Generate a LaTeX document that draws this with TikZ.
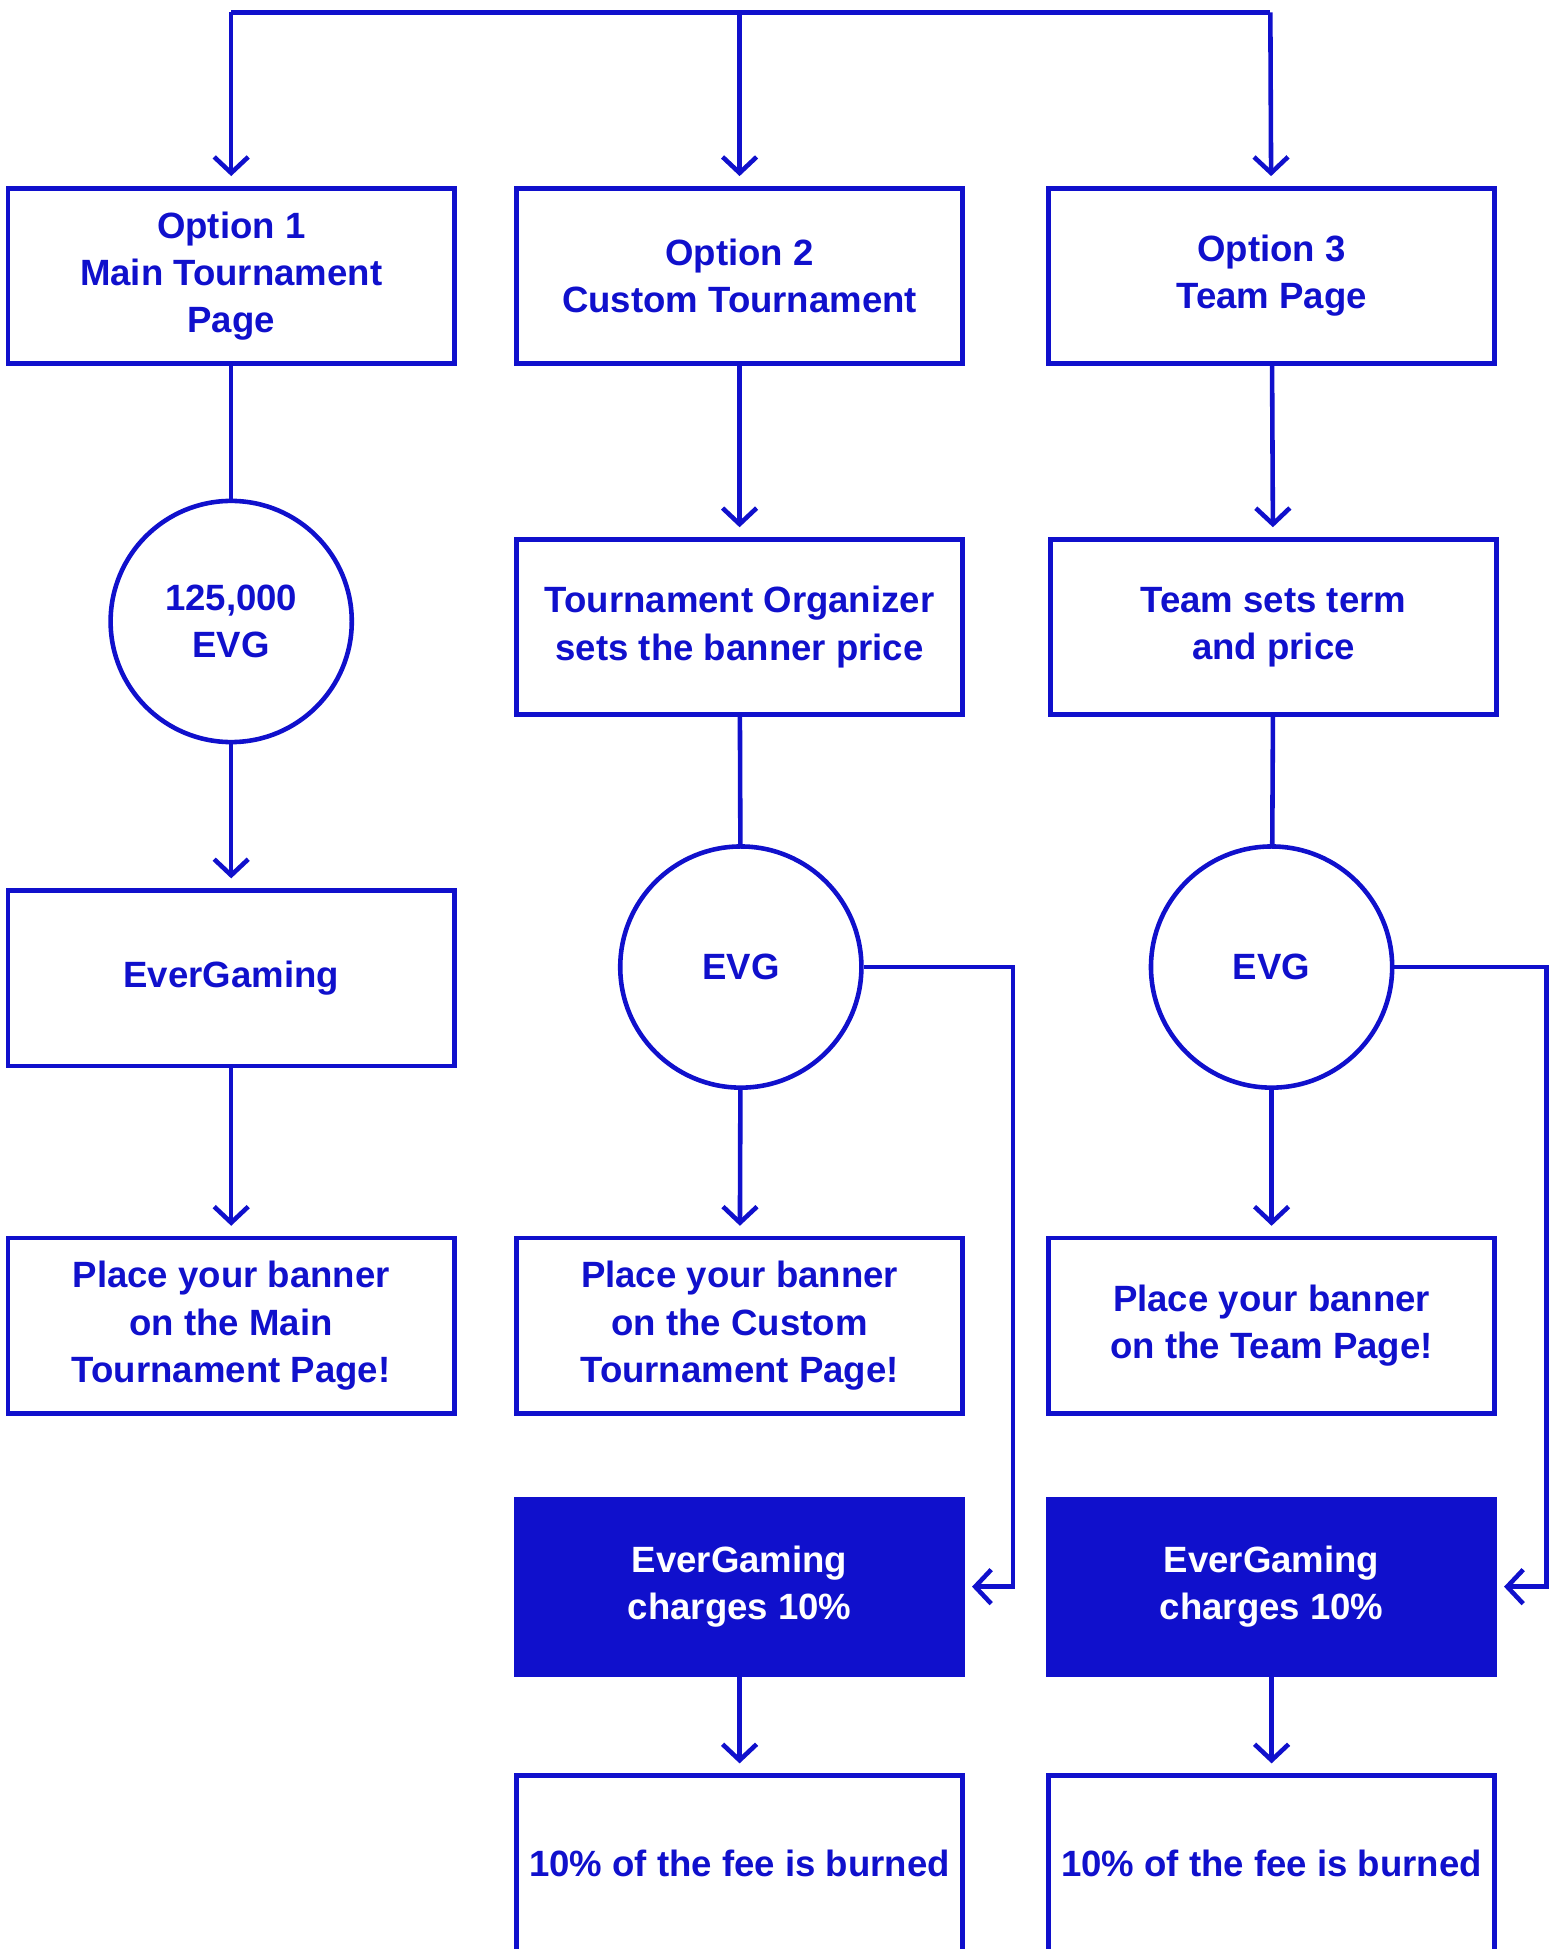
\documentclass[tikz,border=0pt]{standalone}
\usepackage{fontspec}
\setmainfont{Liberation Sans}
\usetikzlibrary{arrows.meta}
\definecolor{evblue}{RGB}{16,16,204}

\begin{document}
\begin{tikzpicture}[x=0.012428cm,y=-0.012428cm,
    line width=1.3pt, draw=evblue,
    every node/.style={font=\fontsize{10.4}{13.4}\selectfont\bfseries, text=evblue, align=center},
    box/.style={draw, rectangle, minimum width=4.46cm, minimum height=1.75cm, inner sep=0pt},
    fillbox/.style={box, fill=evblue, text=white},
    ring/.style={draw, circle, minimum size=2.41cm, inner sep=0pt},
    arr/.style={-{Straight Barb[length=1.6mm,width=3.4mm]}, shorten >=0.1cm},
    sidearr/.style={-{Straight Barb[length=1.6mm,width=3.4mm]}, shorten >=0.07cm}]
        \useasboundingbox (0,0) rectangle (1248,1568);

        \coordinate (t1) at (186,10);
        \coordinate (t2) at (595,10);
        \coordinate (t3) at (1022,10);
        \draw (t1) -- (t3);

        \node[box] (opt1) at (186,222) {Option 1\\Main Tournament\\Page};
        \node[box] (opt2) at (595,222) {Option 2\\Custom Tournament};
        \node[box] (opt3) at (1023,222) {Option 3\\Team Page};
        \draw[arr] (t1) -- (opt1);
        \draw[arr] (t2) -- (opt2);
        \draw[arr] (t3) -- (opt3);
        %%%%%%%%%%

        \node[ring] (evg1) at (186,500) {125,000\\EVG};
        \node[box] (ever1) at (186,787) {EverGaming};
        \node[box] (place1) at (186,1066.5) {Place your banner\\on the Main\\Tournament Page!};
        \draw (opt1) -- (evg1);
        \draw[arr] (evg1) -- (ever1);
        \draw[arr] (ever1) -- (place1);
        %%%%%%%%%%

        \node[box] (org2) at (595,504.5) {Tournament Organizer\\sets the banner price};
        \node[ring] (evg2) at (596,778) {EVG};
        \node[box] (place2) at (595,1066.5) {Place your banner\\on the Custom\\Tournament Page!};
        \node[fillbox] (fee2) at (595,1276.5) {EverGaming\\charges 10\%};
        \node[box] (burn2) at (595,1499) {10\% of the fee is burned};
        \coordinate (s2) at (815,778);
        \draw[arr] (opt2) -- (org2);
        \draw (org2) -- (evg2);
        \draw[arr] (evg2) -- (place2);
        \draw[sidearr] (evg2.east) -- (s2) |- (fee2.east);
        \draw[arr] (fee2) -- (burn2);
        %%%%%%%%%%

        \node[box] (team3) at (1024.5,504.5) {Team sets term\\and price};
        \node[ring] (evg3) at (1023,778) {EVG};
        \node[box] (place3) at (1023,1066.5) {Place your banner\\on the Team Page!};
        \node[fillbox] (fee3) at (1023,1276.5) {EverGaming\\charges 10\%};
        \node[box] (burn3) at (1023,1499) {10\% of the fee is burned};
        \coordinate (s3) at (1244,778);
        \draw[arr] (opt3) -- (team3);
        \draw (team3) -- (evg3);
        \draw[arr] (evg3) -- (place3);
        \draw[sidearr] (evg3.east) -- (s3) |- (fee3.east);
        \draw[arr] (fee3) -- (burn3);
    \end{tikzpicture}
\end{document}
